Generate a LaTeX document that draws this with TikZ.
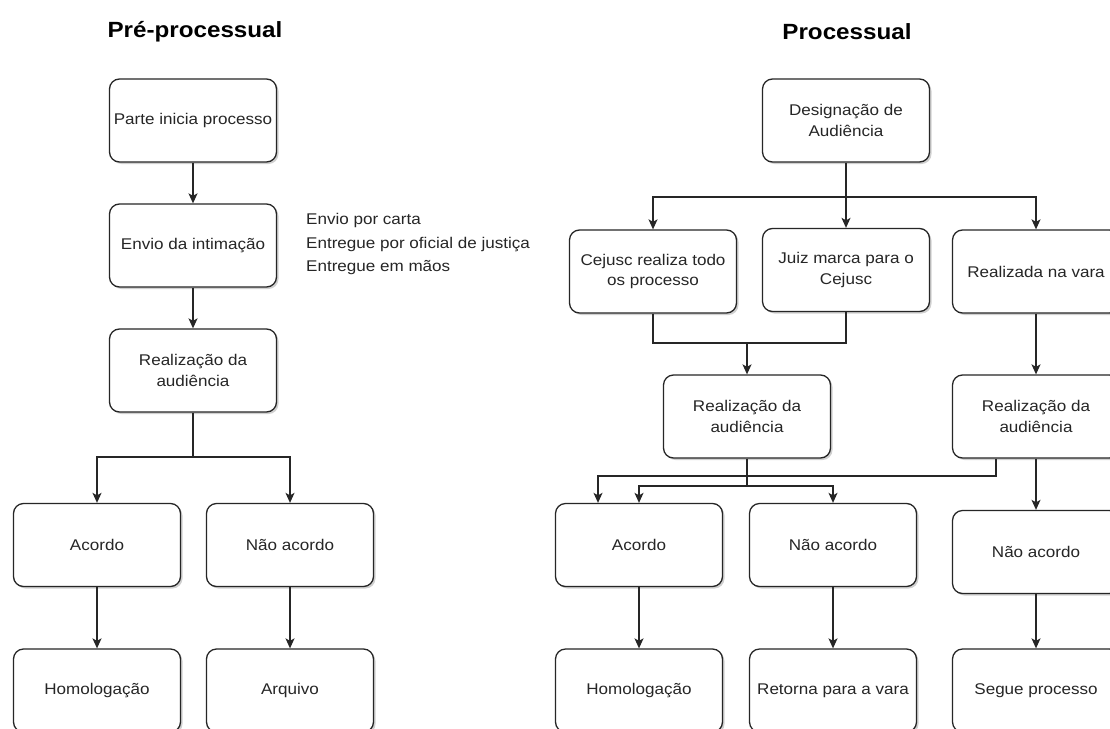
\documentclass[tikz,border=0pt]{standalone}
\usepackage{fontspec}
\setmainfont[FakeStretch=1.1]{Liberation Sans}
\usetikzlibrary{arrows.meta,shadows}
\begin{document}
\begin{tikzpicture}[x=1pt,y=-1pt,
  box/.style={draw=black!85, line width=1.3pt, rounded corners=10pt, fill=white,
    minimum width=167pt, minimum height=83pt, inner sep=2pt, align=center,
    text=black!85, font=\fontsize{15.5}{20.5}\selectfont,
    drop shadow={shadow xshift=2pt, shadow yshift=-2pt, opacity=0.3, fill=black!60}},
  arr/.style={draw=black!85, line width=1.3pt, -{Stealth[length=10pt,width=9pt,inset=2.5pt]}},
  ln/.style={draw=black!85, line width=1.3pt},
  ttl/.style={font=\bfseries\fontsize{22}{26}\selectfont, text=black}
]
\useasboundingbox (0,0) rectangle (1110,728);
\clip (0,0) rectangle (1110,728);
\fill[white] (0,0) rectangle (1110,728);

% titles
\node[ttl] (t1) at (195,32) {Pré-processual};
\node[ttl] (t2) at (847,32) {Processual};

% left column
\node[box] (p1) at (193,120.5) {Parte inicia processo};
\node[box] (p2) at (193,245.5) {Envio da intimação};
\node[box] (p3) at (193,370.5) {Realização da\\audiência};
\node[box] (p4) at (97,545) {Acordo};
\node[box] (p5) at (290,545) {Não acordo};
\node[box] (p6) at (97,690.5) {Homologação};
\node[box] (p7) at (290,690.5) {Arquivo};
\node[anchor=west, align=left, inner sep=0pt, text=black!85,
  font=\fontsize{15.5}{23.5}\selectfont] (side) at (306,244)
  {Envio por carta\\Entregue por oficial de justiça\\Entregue em mãos};

\draw[arr] (p1.south) -- (p2.north);
\draw[arr] (p2.south) -- (p3.north);
\coordinate (jl) at (193,457);
\draw[ln] (p3.south) -- (jl);
\draw[arr] (jl) -| (p4.north);
\draw[arr] (jl) -| (p5.north);
\draw[arr] (p4.south) -- (p6.north);
\draw[arr] (p5.south) -- (p7.north);

% right part
\node[box] (r1) at (846,120.5) {Designação de\\Audiência};
\node[box] (r2) at (653,271.5) {Cejusc realiza todo\\os processo};
\node[box] (r3) at (846,270) {Juiz marca para o\\Cejusc};
\node[box] (r4) at (1036,271.5) {Realizada na vara};
\node[box] (r5) at (747,416.5) {Realização da\\audiência};
\node[box] (r6) at (1036,416.5) {Realização da\\audiência};
\node[box] (r7) at (639,545) {Acordo};
\node[box] (r8) at (833,545) {Não acordo};
\node[box] (r9) at (1036,552) {Não acordo};
\node[box] (r10) at (639,690.5) {Homologação};
\node[box] (r11) at (833,690.5) {Retorna para a vara};
\node[box] (r12) at (1036,690.5) {Segue processo};

\coordinate (j1) at (846,197);
\draw[arr] (r1.south) -- (r3.north);
\draw[arr] (j1) -| (r2.north);
\draw[arr] (j1) -| (r4.north);
\coordinate (j2) at (747,343);
\draw[ln] (r2.south) |- (j2) -| (r3.south);
\draw[arr] (j2) -- (r5.north);
\draw[arr] (r4.south) -- (r6.north);
\coordinate (j3) at (747,486);
\draw[ln] (r5.south) -- (j3);
\draw[arr] (j3) -| (r7.north);
\draw[arr] (j3) -| (r8.north);
\coordinate (j4) at (598,476);
\draw[arr] ([xshift=-40pt]r6.south) |- (j4) -- (j4 |- r7.north);
\draw[arr] (r6.south) -- (r9.north);
\draw[arr] (r7.south) -- (r10.north);
\draw[arr] (r8.south) -- (r11.north);
\draw[arr] (r9.south) -- (r12.north);
\end{tikzpicture}
\end{document}
